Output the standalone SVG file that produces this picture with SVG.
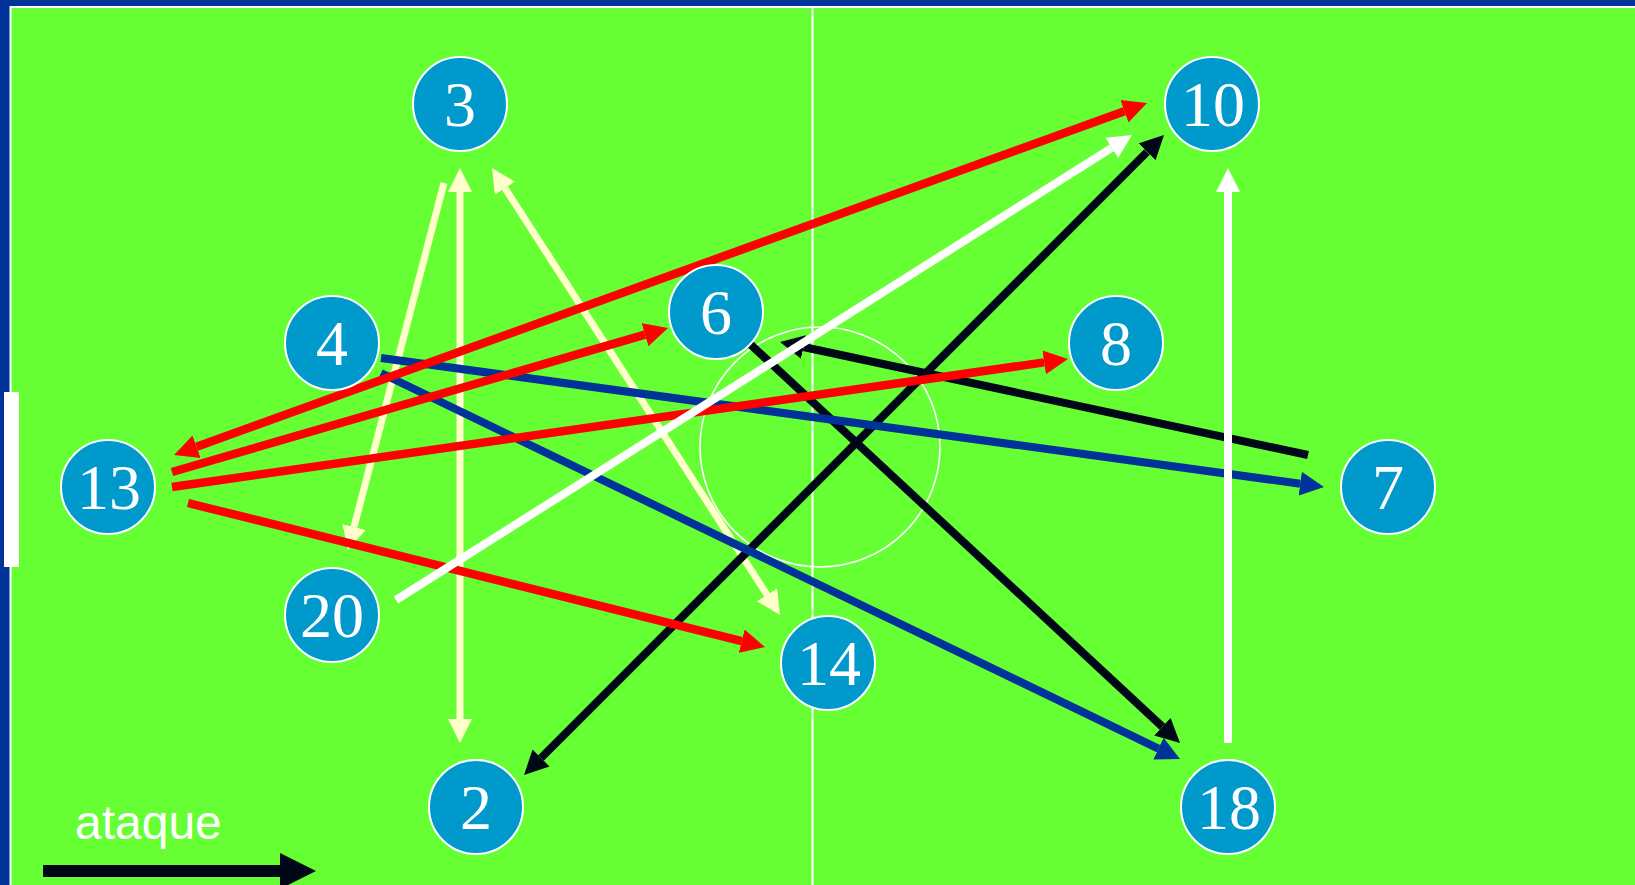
<svg xmlns="http://www.w3.org/2000/svg" width="1635" height="885" viewBox="0 0 1635 885">
<defs>
<style>
.node circle{fill:#0099CC;stroke:#FFFFFF;stroke-width:2}
.node text{font-family:"Liberation Serif","Times New Roman",serif;font-size:64px;fill:#FFFFFF;text-anchor:middle}
.c{fill:none;stroke-linecap:butt}
.red{stroke:#FF0000;stroke-width:8.5}
.yel{stroke:#FFFFCC;stroke-width:7}
.wht{stroke:#FFFFFF;stroke-width:8}
.blk{stroke:#000818;stroke-width:8}
.blu{stroke:#003399;stroke-width:8}
</style>
<marker id="mr" markerUnits="userSpaceOnUse" markerWidth="25" markerHeight="25" viewBox="0 -12.5 25 25" refX="0" refY="0" orient="auto-start-reverse"><path d="M0,-12 L24,0 L0,12 z" fill="#FF0000"/></marker>
<marker id="my" markerUnits="userSpaceOnUse" markerWidth="25" markerHeight="25" viewBox="0 -12.5 25 25" refX="0" refY="0" orient="auto-start-reverse"><path d="M0,-12 L24,0 L0,12 z" fill="#FFFFCC"/></marker>
<marker id="mw" markerUnits="userSpaceOnUse" markerWidth="25" markerHeight="25" viewBox="0 -12.5 25 25" refX="0" refY="0" orient="auto-start-reverse"><path d="M0,-12 L24,0 L0,12 z" fill="#FFFFFF"/></marker>
<marker id="mk" markerUnits="userSpaceOnUse" markerWidth="25" markerHeight="25" viewBox="0 -12.5 25 25" refX="0" refY="0" orient="auto-start-reverse"><path d="M0,-12 L24,0 L0,12 z" fill="#000818"/></marker>
<marker id="mb" markerUnits="userSpaceOnUse" markerWidth="25" markerHeight="25" viewBox="0 -12.5 25 25" refX="0" refY="0" orient="auto-start-reverse"><path d="M0,-12 L24,0 L0,12 z" fill="#003399"/></marker>
</defs>
<g id="pitch">
<rect x="0" y="0" width="1635" height="885" fill="#003399"/>
<rect x="10.5" y="7" width="1640" height="890" fill="#66FF33" stroke="#FFFFFF" stroke-width="2"/>
<line x1="812.5" y1="8" x2="812.5" y2="885" stroke="#FFFFFF" stroke-width="2"/>
<circle cx="820" cy="447" r="120" fill="none" stroke="#FFFFFF" stroke-width="1.6"/>
<rect x="4" y="392" width="15" height="175" fill="#FFFFFF"/>
</g>
<g id="connectors">
<line class="c yel" x1="444" y1="183" x2="354" y2="527" marker-end="url(#my)"/>
<line class="c yel" x1="460" y1="192" x2="460" y2="719" marker-start="url(#my)" marker-end="url(#my)"/>
<line class="c yel" x1="505" y1="188.2" x2="767" y2="594.8" marker-start="url(#my)" marker-end="url(#my)"/>
<line class="c blk" x1="541" y1="758" x2="1147" y2="152" marker-start="url(#mk)" marker-end="url(#mk)"/>
<line class="c blk" x1="749" y1="343" x2="1162.4" y2="726.7" marker-end="url(#mk)"/>
<line class="c blk" x1="1308" y1="455" x2="803.5" y2="347" marker-end="url(#mk)"/>
<line class="c blu" x1="381" y1="358" x2="1300.2" y2="483.7" marker-end="url(#mb)"/>
<line class="c blu" x1="381" y1="373" x2="1158.4" y2="748.6" marker-end="url(#mb)"/>
<line class="c red" x1="196.6" y1="446.8" x2="1124.4" y2="111.2" marker-start="url(#mr)" marker-end="url(#mr)"/>
<line class="c red" x1="172" y1="472" x2="645" y2="334.7" marker-end="url(#mr)"/>
<line class="c red" x1="172" y1="487" x2="1044.2" y2="362.4" marker-end="url(#mr)"/>
<line class="c red" x1="188" y1="503" x2="741.7" y2="641.2" marker-end="url(#mr)"/>
<line class="c wht" x1="396" y1="600" x2="1111.7" y2="147.8" marker-end="url(#mw)"/>
<line class="c wht" x1="1228" y1="743" x2="1228" y2="192" marker-end="url(#mw)"/>
</g>
<g id="n3" class="node"><circle cx="460" cy="104" r="47"/><text x="460" y="126">3</text></g>
<g id="n10" class="node"><circle cx="1212" cy="104" r="47"/><text x="1213" y="126">10</text></g>
<g id="n4" class="node"><circle cx="332" cy="343" r="47"/><text x="332" y="365">4</text></g>
<g id="n6" class="node"><circle cx="716" cy="312" r="47"/><text x="716" y="334">6</text></g>
<g id="n8" class="node"><circle cx="1116" cy="343" r="47"/><text x="1116" y="365">8</text></g>
<g id="n13" class="node"><circle cx="108" cy="487" r="47"/><text x="109" y="509">13</text></g>
<g id="n7" class="node"><circle cx="1388" cy="487" r="47"/><text x="1388" y="509">7</text></g>
<g id="n20" class="node"><circle cx="332" cy="615" r="47"/><text x="332" y="637">20</text></g>
<g id="n14" class="node"><circle cx="828" cy="663" r="47"/><text x="829" y="685">14</text></g>
<g id="n2" class="node"><circle cx="476" cy="807" r="47"/><text x="476" y="829">2</text></g>
<g id="n18" class="node"><circle cx="1228" cy="807" r="47"/><text x="1229" y="829">18</text></g>
<g id="legend">
<text x="75" y="839" font-family="'Liberation Sans',Arial,sans-serif" font-size="48" fill="#FFFFFF">ataque</text>
<line x1="43" y1="871" x2="281" y2="871" stroke="#000818" stroke-width="12"/>
<path d="M280,853 L316,871 L280,889 z" fill="#000818"/>
</g>
</svg>
